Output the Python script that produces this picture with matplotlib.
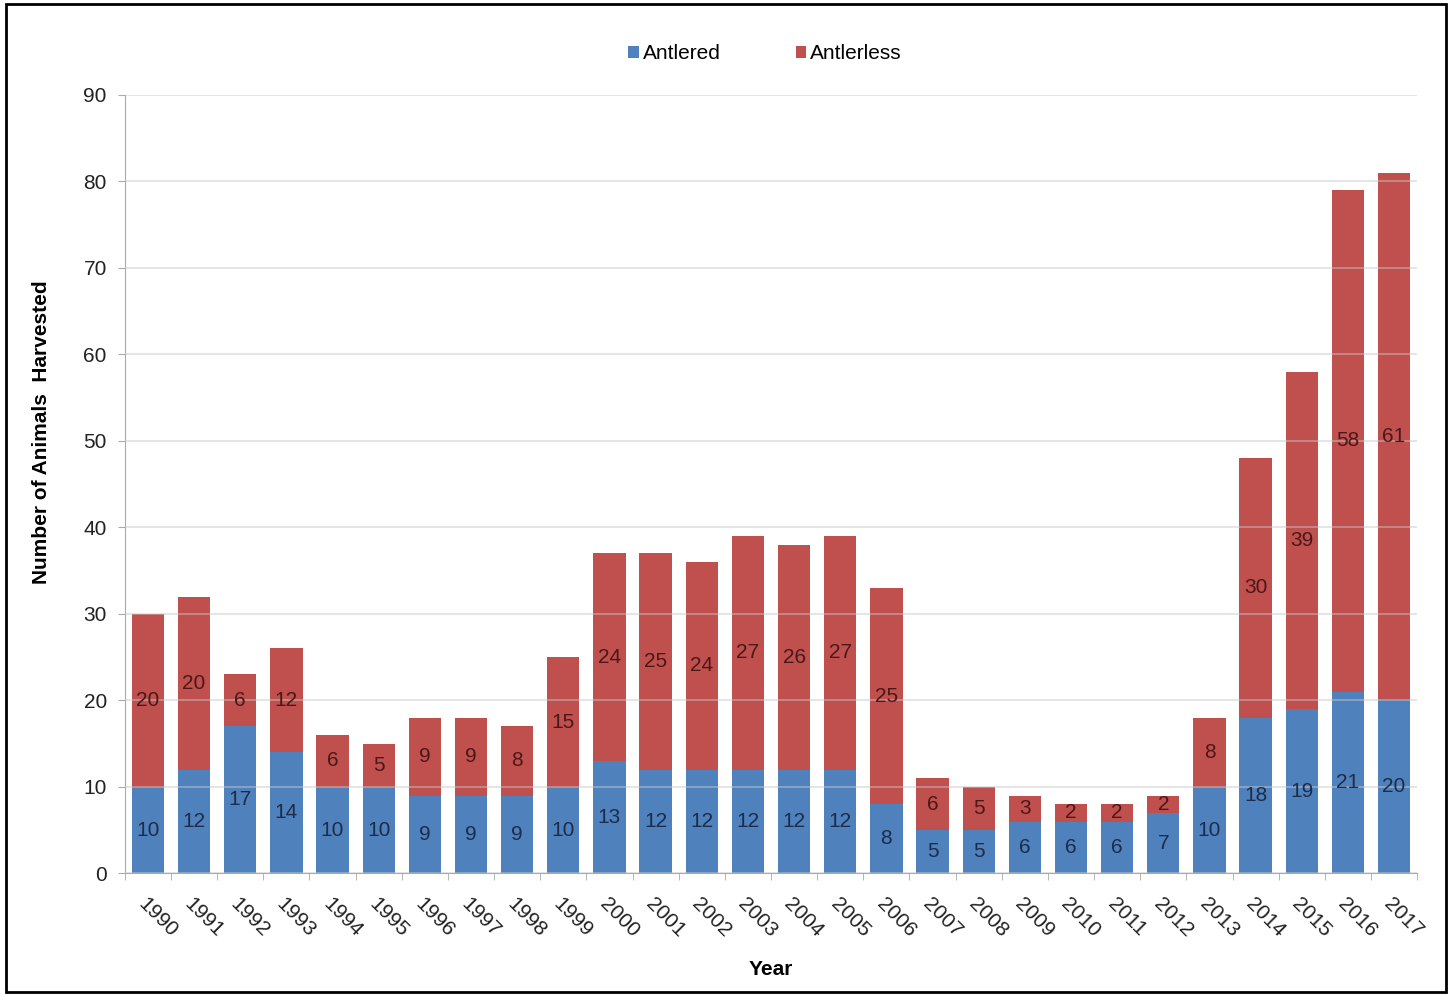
import matplotlib
matplotlib.use("Agg")
import matplotlib.pyplot as plt
from matplotlib.patches import Rectangle
import numpy as np

plt.rcParams['font.family'] = ['Liberation Sans', 'DejaVu Sans']

years = [str(y) for y in range(1990, 2018)]
antlered = [10, 12, 17, 14, 10, 10, 9, 9, 9, 10, 13, 12, 12, 12, 12, 12, 8,
            5, 5, 6, 6, 6, 7, 10, 18, 19, 21, 20]
antlerless = [20, 20, 6, 12, 6, 5, 9, 9, 8, 15, 24, 25, 24, 27, 26, 27, 25,
              6, 5, 3, 2, 2, 2, 8, 30, 39, 58, 61]

blue = '#4F81BD'
red = '#C0504D'

fig = plt.figure(figsize=(14.52, 9.96), dpi=100)
ax = fig.add_axes([0.086, 0.123, 0.89, 0.782])

x = np.arange(len(years))
w = 0.70
b1 = ax.bar(x, antlered, w, color=blue, label='Antlered', zorder=2)
b2 = ax.bar(x, antlerless, w, bottom=antlered, color=red, label='Antlerless', zorder=2)

for rect, v in zip(b1, antlered):
    ax.text(rect.get_x() + rect.get_width() / 2, rect.get_y() + rect.get_height() / 2,
            str(v), ha='center', va='center', fontsize=15, color='#1c2c4a', zorder=4)
for rect, v in zip(b2, antlerless):
    ax.text(rect.get_x() + rect.get_width() / 2, rect.get_y() + rect.get_height() / 2,
            str(v), ha='center', va='center', fontsize=15, color='#4a1818', zorder=4)

ax.set_xlim(-0.5, len(years) - 0.5)
ax.set_ylim(0, 90)
ax.set_yticks(np.arange(0, 91, 10))
ax.yaxis.grid(True, color='#c8c8c8', linewidth=1.2, zorder=3, alpha=0.55)
ax.set_axisbelow(False)

ax.set_xticks(x)
ax.set_xticklabels(years, rotation=-45, ha='left', va='top', rotation_mode='anchor',
                   fontsize=15, color='#222222')
ax.set_xticks(np.arange(-0.5, len(years), 1), minor=True)
ax.tick_params(axis='x', which='major', length=0, pad=15)
ax.tick_params(axis='x', which='minor', length=5, color='#aaaaaa')
ax.tick_params(axis='y', length=5, color='#aaaaaa', labelsize=15, labelcolor='#222222', pad=8)

for s in ['top', 'right']:
    ax.spines[s].set_visible(False)
ax.spines['left'].set_color('#aaaaaa')
ax.spines['bottom'].set_color('#aaaaaa')

ax.set_ylabel('Number of Animals  Harvested', fontsize=15, fontweight='bold')
ax.yaxis.set_label_coords(-0.057, 0.566)
ax.set_xlabel('Year', fontsize=15, fontweight='bold', labelpad=14)

fig.legend(handles=[b1, b2], labels=['Antlered', 'Antlerless'], loc='center',
           bbox_to_anchor=(0.527, 0.946), ncol=2, frameon=False, fontsize=15,
           handlelength=0.5, handleheight=0.5, handletextpad=0.2, columnspacing=3.6)

fig.patches.append(Rectangle((0.004, 0.004), 0.992, 0.992, transform=fig.transFigure,
                             fill=False, edgecolor='black', linewidth=2))

fig.savefig('out.png', dpi=100)
